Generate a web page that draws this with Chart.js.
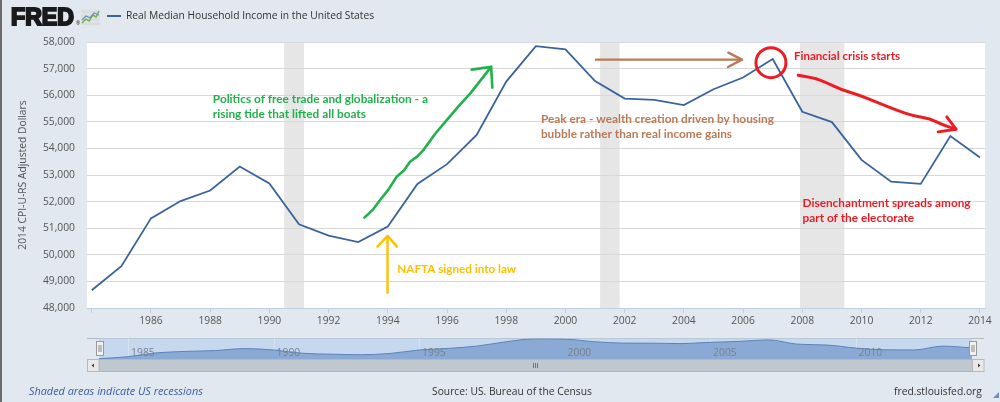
<!DOCTYPE html>
<html><head><meta charset="utf-8">
<script src="https://cdn.jsdelivr.net/npm/chart.js@4.4.1/dist/chart.umd.min.js"></script>
<style>
html,body{margin:0;padding:0;background:#e1e8f0;width:1000px;height:402px;overflow:hidden}
#main{position:absolute;left:0;top:0;width:1000px;height:402px}
#nav{position:absolute;left:87px;top:336px;width:898px;height:25px}
</style></head><body>
<canvas id="main" width="1000" height="402"></canvas>
<canvas id="nav" width="898" height="25"></canvas>
<script>
// ---- data ----
const years = [1984,1985,1986,1987,1988,1989,1990,1991,1992,1993,1994,1995,1996,1997,1998,1999,2000,2001,2002,2003,2004,2005,2006,2007,2008,2009,2010,2011,2012,2013,2014];
const income = [48665,49574,51370,52020,52418,53320,52684,51145,50725,50478,51065,52664,53407,54506,56510,57843,57724,56531,55871,55823,55629,56224,56663,57357,55376,54988,53568,52751,52666,54462,53657];
const xTickYears = [1984,1986,1988,1990,1992,1994,1996,1998,2000,2002,2004,2006,2008,2010,2012,2014];
const yTickValues = [48000,49000,50000,51000,52000,53000,54000,55000,56000,57000,58000];
const recessionStart = [1990.5, 2001.17, 2007.92];
const recessionEnd = [1991.17, 2001.83, 2009.42];
const navTickYears = [1985,1990,1995,2000,2005,2010];

const seriesName = 'Real Median Household Income in the United States';
const yTitle = '2014 CPI-U-RS Adjusted Dollars';

// annotation positions in data units (year, value)
const greenArrowYears = [1993.21,1993.50,1993.74,1994.02,1994.30,1994.55,1994.75,1995.00,1995.20,1995.60,1995.99,1996.40,1996.78,1997.49];
const greenArrowValues = [51396,51700,52060,52450,52934,53180,53496,53700,53935,54550,55060,55600,56061,57066];
const greenHeadYears = [1996.83,1997.49,1997.53];
const greenHeadValues = [56961,57066,56286];
const yellowArrowYears = [1993.99,1993.99];
const yellowArrowValues = [48573,50710];
const yellowHeadYears = [1993.65,1993.99,1994.31];
const yellowHeadValues = [50309,50710,50309];
const brownArrowYears = [2001.03,2005.96];
const brownArrowValues = [57336,57336];
const brownHeadYears = [2005.50,2005.96,2005.49];
const brownHeadValues = [57599,57336,57059];
const redArrowYears = [2007.86,2008.37,2008.82,2009.27,2009.94,2010.62,2011.19,2011.75,2012.31,2012.76,2013.19];
const redArrowValues = [56748,56661,56474,56223,55998,55686,55435,55221,55124,54873,54723];
const redHeadYears = [2012.88,2013.19,2012.59];
const redHeadValues = [55184,54723,54621];
const crisisYear = 2006.94, crisisValue = 57224;

const notes = [
  {text:'Politics of free trade and globalization - a', year:1988.09, value:55847, color:'#22b14c', width:215},
  {text:'rising tide that lifted all boats', year:1988.09, value:55285, color:'#22b14c', width:null},
  {text:'NAFTA signed into law', year:1994.32, value:49461, color:'#ffc000', width:119},
  {text:'Peak era - wealth creation driven by housing', year:1999.17, value:55109, color:'#b97a57', width:233},
  {text:'bubble rather than real income gains', year:1999.17, value:54546, color:'#b97a57', width:null},
  {text:'Financial crisis starts', year:2007.72, value:57460, color:'#ed1c24', width:106},
  {text:'Disenchantment spreads among', year:2008.01, value:51936, color:'#ed1c24', width:168},
  {text:'part of the electorate', year:2008.01, value:51359, color:'#ed1c24', width:null}
];

const FONT = '"Open Sans", "DejaVu Sans", sans-serif';
const LINE = '#3a639e';

function fitFont(ctx, text, family, style, width){
  ctx.font = style + ' 20px ' + family;
  const w = ctx.measureText(text).width;
  return {size: 20*width/w, font: style + ' ' + (20*width/w).toFixed(2) + 'px ' + family};
}

const bgPlugin = {
  id:'bg',
  beforeDraw(chart){
    const ctx = chart.ctx, a = chart.chartArea, xs = chart.scales.x;
    ctx.save();
    ctx.fillStyle = '#e1e8f0';
    ctx.fillRect(0,0,chart.width,chart.height);
    ctx.fillStyle = '#ffffff';
    ctx.fillRect(a.left,a.top,a.right-a.left,a.bottom-a.top);
    ctx.fillStyle = '#e6e6e6';
    for(let i=0;i<recessionStart.length;i++){
      const x1 = xs.getPixelForValue(recessionStart[i]), x2 = xs.getPixelForValue(recessionEnd[i]);
      ctx.fillRect(x1,a.top,x2-x1,a.bottom-a.top);
    }
    ctx.restore();
  },
  afterDraw(chart){
    const ctx = chart.ctx;
    ctx.save();
    // left frame
    ctx.fillStyle = '#6a6a6a';
    ctx.fillRect(0,0,2,402);
    // FRED logo
    let f = fitFont(ctx,'FRED','"Liberation Sans", Arial, sans-serif','bold',63);
    ctx.font = f.font; ctx.fillStyle = '#1a1a1a'; ctx.strokeStyle = '#1a1a1a'; ctx.lineWidth = 2;
    ctx.lineJoin = 'miter';
    ctx.textBaseline = 'alphabetic'; ctx.textAlign = 'left';
    ctx.fillText('FRED',11,24.5); ctx.strokeText('FRED',11,24.5);
    ctx.font = '5px ' + FONT; ctx.fillText('®',76,25);
    // icon
    ctx.fillStyle = '#dfe3e6'; ctx.fillRect(81,9,19,16);
    ctx.strokeStyle = '#c9ced2'; ctx.lineWidth = 0.6;
    for(let k=0;k<4;k++){ctx.beginPath();ctx.moveTo(81,12+k*4);ctx.lineTo(100,12+k*4);ctx.stroke();}
    ctx.lineWidth = 1.3;
    ctx.strokeStyle = '#6fae3c'; ctx.beginPath();
    ctx.moveTo(82,23); ctx.lineTo(86,19); ctx.lineTo(89,21); ctx.lineTo(93,15); ctx.lineTo(96,17); ctx.lineTo(99,11); ctx.stroke();
    ctx.strokeStyle = '#6d8fb8'; ctx.beginPath();
    ctx.moveTo(82,20); ctx.lineTo(86,16); ctx.lineTo(90,18); ctx.lineTo(94,13); ctx.lineTo(99,15); ctx.stroke();
    // legend
    ctx.strokeStyle = LINE; ctx.lineWidth = 2;
    ctx.beginPath(); ctx.moveTo(107,16); ctx.lineTo(121,16); ctx.stroke();
    f = fitFont(ctx,seriesName,FONT,'normal',248);
    ctx.font = f.font; ctx.fillStyle = '#333333'; ctx.textBaseline = 'middle';
    ctx.fillText(seriesName,126,16.5);
    // navigator frame + scrollbar
    ctx.strokeStyle = '#b0b8c2'; ctx.lineWidth = 1;
    ctx.beginPath(); ctx.moveTo(87,338.5); ctx.lineTo(984,338.5); ctx.stroke();
    ctx.fillStyle = '#bfc7cf'; ctx.fillRect(87,359.5,897,12);
    ctx.strokeStyle = '#b0b8c0'; ctx.strokeRect(87.5,359.5,896,12);
    ctx.fillStyle = '#e8e8e8'; ctx.strokeStyle = '#b8b8b8';
    ctx.fillRect(87.5,359.5,11.5,12); ctx.strokeRect(87.5,359.5,11.5,12);
    ctx.fillRect(972.5,359.5,11.5,12); ctx.strokeRect(972.5,359.5,11.5,12);
    ctx.fillStyle = '#444';
    ctx.beginPath(); ctx.moveTo(91.5,365.5); ctx.lineTo(94,363.5); ctx.lineTo(94,367.5); ctx.closePath(); ctx.fill();
    ctx.beginPath(); ctx.moveTo(980.5,365.5); ctx.lineTo(978,363.5); ctx.lineTo(978,367.5); ctx.closePath(); ctx.fill();
    ctx.strokeStyle = '#777'; ctx.lineWidth = 1;
    for(let k=-1;k<=1;k++){ctx.beginPath();ctx.moveTo(535.5+k*2,363);ctx.lineTo(535.5+k*2,368);ctx.stroke();}
    // footer
    f = fitFont(ctx,'Shaded areas indicate US recessions',FONT,'italic',174);
    ctx.font = f.font; ctx.fillStyle = '#3d5c9e'; ctx.fillText('Shaded areas indicate US recessions',29,392);
    f = fitFont(ctx,'Source: US. Bureau of the Census',FONT,'normal',160);
    ctx.font = f.font; ctx.fillStyle = '#333333'; ctx.fillText('Source: US. Bureau of the Census',432,392);
    f = fitFont(ctx,'fred.stlouisfed.org',FONT,'normal',88);
    ctx.font = f.font; ctx.fillText('fred.stlouisfed.org',894,392);
    // resize marker
    ctx.fillStyle = '#6b8fc7';
    ctx.beginPath(); ctx.moveTo(999,392); ctx.lineTo(999,398); ctx.lineTo(993,398); ctx.closePath(); ctx.fill();
    ctx.restore();
  }
};

const annotPlugin = {
  id:'annot',
  afterDatasetsDraw(chart){
    const ctx = chart.ctx, xs = chart.scales.x, ys = chart.scales.y;
    const X = v => xs.getPixelForValue(v), Y = v => ys.getPixelForValue(v);
    function poly(yrs, vals, color, w){
      ctx.strokeStyle = color; ctx.lineWidth = w; ctx.lineCap = 'round'; ctx.lineJoin = 'round';
      ctx.beginPath();
      yrs.forEach((yr,i)=>{ const px = X(yr), py = Y(vals[i]); i?ctx.lineTo(px,py):ctx.moveTo(px,py); });
      ctx.stroke();
    }
    function smooth(yrs, vals, color, w){
      ctx.strokeStyle = color; ctx.lineWidth = w; ctx.lineCap = 'round'; ctx.lineJoin = 'round';
      const pts = yrs.map((yr,i)=>[X(yr),Y(vals[i])]);
      ctx.beginPath(); ctx.moveTo(pts[0][0],pts[0][1]);
      for(let i=1;i<pts.length-1;i++){
        const mx=(pts[i][0]+pts[i+1][0])/2, my=(pts[i][1]+pts[i+1][1])/2;
        ctx.quadraticCurveTo(pts[i][0],pts[i][1],mx,my);
      }
      ctx.lineTo(pts[pts.length-1][0],pts[pts.length-1][1]);
      ctx.stroke();
    }
    ctx.save();
    poly(greenArrowYears, greenArrowValues, '#22b14c', 2.6);
    poly(greenHeadYears, greenHeadValues, '#22b14c', 2.6);
    poly(yellowArrowYears, yellowArrowValues, '#ffc000', 2.4);
    poly(yellowHeadYears, yellowHeadValues, '#ffc000', 2.4);
    poly(brownArrowYears, brownArrowValues, '#b97a57', 2.4);
    poly(brownHeadYears, brownHeadValues, '#b97a57', 2.4);
    smooth(redArrowYears, redArrowValues, '#ed1c24', 3);
    poly(redHeadYears, redHeadValues, '#ed1c24', 3);
    // circle
    ctx.strokeStyle = '#ed1c24'; ctx.lineWidth = 3;
    ctx.beginPath(); ctx.arc(X(crisisYear), Y(crisisValue), 15, 0, Math.PI*2); ctx.stroke();
    // texts
    ctx.textBaseline = 'middle'; ctx.textAlign = 'left';
    let size = 12;
    const fam = 'Lato, "Open Sans", sans-serif';
    notes.forEach(n=>{
      if(n.width){ const f = fitFont(ctx,n.text,fam,'bold',n.width); size = f.size; }
      ctx.font = 'bold ' + size.toFixed(2) + 'px ' + fam;
      ctx.fillStyle = n.color;
      ctx.fillText(n.text, X(n.year), Y(n.value));
    });
    ctx.restore();
  }
};

new Chart(document.getElementById('main'), {
  type:'line',
  data:{datasets:[{data: years.map((y,i)=>({x:y,y:income[i]})), borderColor:LINE, borderWidth:1.8, pointRadius:0, tension:0, fill:false}]},
  options:{
    responsive:false, animation:false, devicePixelRatio:1,
    layout:{padding:{left:0,top:42,right:15,bottom:64}},
    plugins:{legend:{display:false}, tooltip:{enabled:false}},
    scales:{
      x:{type:'linear', min:1983.84, max:2014.17,
        afterBuildTicks: s => { s.ticks = xTickYears.map(v=>({value:v})); },
        afterFit: s => { s.height = 30; },
        ticks:{autoSkip:false, maxRotation:0, padding:2, color:'#555555', font:{family:FONT,size:10.3},
          callback: v => v===1984 ? '' : String(v)},
        grid:{drawOnChartArea:false, drawTicks:true, tickLength:5, tickColor:'#c0d0e0'},
        border:{display:true, color:'#c0d0e0', width:1}
      },
      y:{min:48000, max:58000,
        afterBuildTicks: s => { s.ticks = yTickValues.map(v=>({value:v})); },
        afterFit: s => { s.width = 87; },
        ticks:{padding:12, color:'#555555', font:{family:FONT,size:10.3},
          callback: v => String(v).replace(/\B(?=(\d{3})+(?!\d))/g, ',')},
        grid:{color:'#d8d8d8', lineWidth:1, drawTicks:false},
        border:{display:false},
        title:{display:true, text:yTitle, color:'#555555', font:{family:FONT,size:10.3}, padding:{top:17,bottom:0}}
      }
    }
  },
  plugins:[bgPlugin, annotPlugin]
});

const navPlugin = {
  id:'navdeco',
  beforeDatasetsDraw(chart){
    const ctx = chart.ctx, a = chart.chartArea, xs = chart.scales.x;
    ctx.save();
    ctx.fillStyle = '#c6d8ee';
    ctx.fillRect(a.left,a.top,a.right-a.left,a.bottom-a.top);
    ctx.strokeStyle = '#d6e1ee'; ctx.lineWidth = 1;
    navTickYears.forEach(yr=>{ const x = Math.round(xs.getPixelForValue(yr))+0.5;
      ctx.beginPath(); ctx.moveTo(x,a.top); ctx.lineTo(x,a.bottom); ctx.stroke(); });
    ctx.restore();
  },
  afterDatasetsDraw(chart){
    const ctx = chart.ctx, a = chart.chartArea, xs = chart.scales.x;
    ctx.save();
    ctx.font = '10.3px ' + FONT; ctx.fillStyle = '#77828e';
    ctx.textBaseline = 'middle'; ctx.textAlign = 'left';
    navTickYears.forEach(yr=>{ ctx.fillText(String(yr), xs.getPixelForValue(yr)+3, 16.7); });
    // handles
    [a.left, a.right].forEach(x=>{
      ctx.fillStyle = '#f2f2f2'; ctx.strokeStyle = '#999999'; ctx.lineWidth = 1;
      const hx = Math.round(x-3.5)+0.5;
      ctx.fillRect(hx,5.5,7,14); ctx.strokeRect(hx,5.5,7,14);
      ctx.strokeStyle = '#888';
      ctx.beginPath(); ctx.moveTo(hx+2.5,9); ctx.lineTo(hx+2.5,16); ctx.moveTo(hx+4.5,9); ctx.lineTo(hx+4.5,16); ctx.stroke();
    });
    ctx.restore();
  }
};

new Chart(document.getElementById('nav'), {
  type:'line',
  data:{datasets:[{data: years.map((y,i)=>({x:y,y:income[i]})), borderColor:'#5a83bb', borderWidth:1,
    backgroundColor:'#8aa9d4', fill:'start', pointRadius:0, cubicInterpolationMode:'monotone'}]},
  options:{
    responsive:false, animation:false, devicePixelRatio:1,
    layout:{padding:{left:12,right:13,top:2.5,bottom:2}},
    plugins:{legend:{display:false}, tooltip:{enabled:false}},
    scales:{
      x:{type:'linear', min:1984, max:2014, display:false},
      y:{min:48500, max:58000, display:false}
    }
  },
  plugins:[navPlugin]
});
</script>
</body></html>
